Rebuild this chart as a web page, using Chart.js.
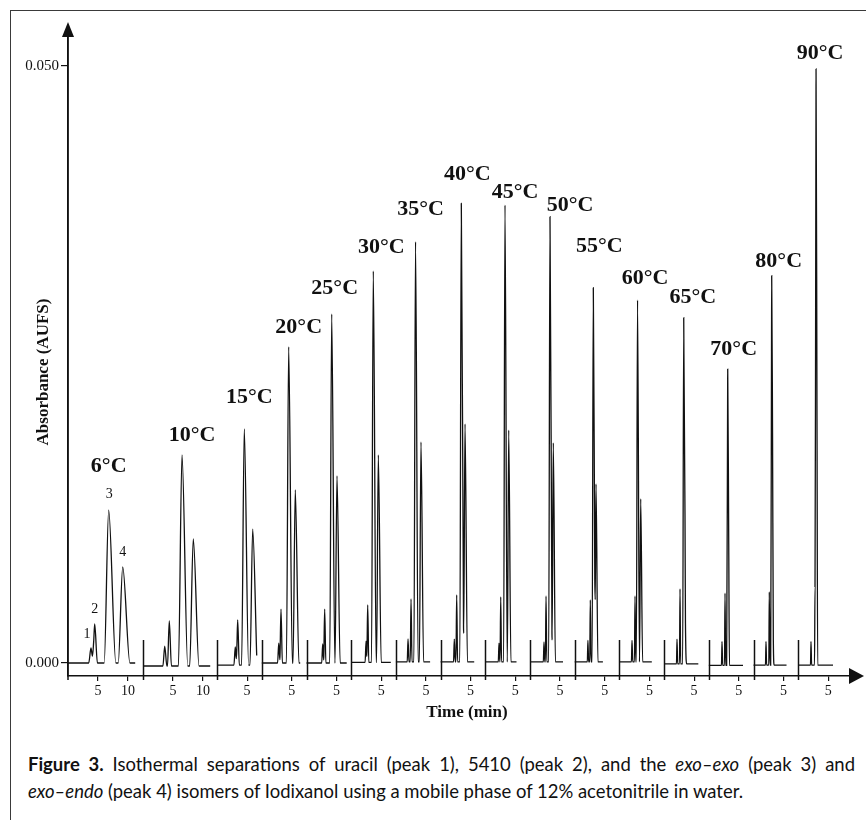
<!DOCTYPE html>
<html><head><meta charset="utf-8">
<script src="https://cdn.jsdelivr.net/npm/chart.js@4.4.1/dist/chart.umd.min.js"></script>
<style>
html,body{margin:0;padding:0;background:#fff;width:866px;height:820px;overflow:hidden;}
#frame{position:absolute;left:10px;top:10px;width:900px;height:900px;border:1.6px solid #3a3a3a;box-sizing:border-box;}
#c{position:absolute;left:0;top:0;}
#caption{position:absolute;left:28px;top:750px;width:827px;font-family:Lato,"Open Sans",sans-serif;font-size:19px;line-height:27px;color:#111;}
#capInner{transform-origin:0 0;width:827px;}
.l1{text-align:justify;text-align-last:justify;}
#l2{display:inline-block;white-space:nowrap;}
</style>
</head><body>
<div id="frame"></div>
<canvas id="c" width="866" height="730"></canvas>
<div id="caption"><div id="capInner">
<div class="l1"><b>Figure 3.</b> Isothermal separations of uracil (peak 1), 5410 (peak 2), and the <i>exo–exo</i> (peak 3) and</div>
<div id="l2"><i>exo–endo</i> (peak 4) isomers of Iodixanol using a mobile phase of 12% acetonitrile in water.</div>
</div></div>
<script>
// ---- data ----
const temperatures = [6,10,15,20,25,30,35,40,45,50,55,60,65,70,80,90];
const runLength   = [12.5,12.35,7.45,7.45,7.45,7.45,7.45,7.45,7.45,7.45,7.45,7.45,7.45,7.45,7.45,8.63]; // min shown per run
const traceEnd    = [11.2,11.2,6.6,6.4,6.7,6.6,5.7,5.6,5.2,5.5,4.7,5.4,5.7,5.7,5.5,5.8];            // min
const baselineLevel = [0,-0.00025,-0.00017,0,0,0.00005,0.0001,0.0001,0.0001,0.0001,0.0001,0.0001,-0.00008,-0.0002,-0.00017,-0.00017];
const peak1Time   = [3.83,3.62,3.03,2.82,2.70,2.47,2.02,2.28,2.28,2.33,2.20,2.10,2.15,2.20,2.08,2.13];
const peak1Height = [0.00126,0.00142,0.00134,0.00167,0.00159,0.00184,0.00201,0.0020,0.00167,0.00176,0.0019,0.0019,0.0020,0.0018,0.0018,0.0018];
const peak2Time   = [4.45,4.38,3.43,3.20,3.03,2.75,2.52,2.68,2.57,2.67,2.60,2.60,2.65,2.70,2.63,2.80];
const peak2Height = [0.00327,0.00352,0.0036,0.00452,0.00452,0.00486,0.00536,0.0057,0.00553,0.00561,0.00528,0.00561,0.0062,0.00586,0.00595,0.00637];
const peak3Time   = [6.78,6.50,4.53,4.48,4.20,3.68,3.27,3.45,3.28,3.33,3.10,3.02,3.27,3.15,3.03,2.97];
const peak3Height = [0.01281,0.01742,0.0196,0.02647,0.02923,0.03283,0.03528,0.0385,0.03836,0.03738,0.03143,0.0304,0.02892,0.02462,0.03244,0.04975];
const peak4Time   = [9.12,8.38,5.93,5.58,5.08,4.52,4.18,4.07,3.90,3.88,3.55,3.55,3.48,3.32,3.17,3.13];
const peak4Height = [0.00804,0.01039,0.01122,0.01449,0.01566,0.01742,0.01851,0.02002,0.01951,0.01843,0.01499,0.01374,0.0124,0.008,0.0193,0.012];
const peakWidth   = [0.75,0.6,0.45,0.38,0.33,0.3,0.27,0.25,0.23,0.22,0.2,0.2,0.18,0.18,0.17,0.17]; // min
const xTickLabels = [[5,10],[5,10],[5],[5],[5],[5],[5],[5],[5],[5],[5],[5],[5],[5],[5],[5]];
const yTickValues = [0,0.05];
const peakNumbers = ['1','2','3','4'];

// ---- layout (pixels, separate from data) ----
const labelOffset = [[0,-45],[10,-21],[5,-33],[10,-21],[3,-27],[8,-25],[5,-34],[6,-30],[10,-14],[20,-13],[6,-43],[7.5,-23],[9,-22],[6,-21],[7,-16],[4,-17]];
const peakNumOffset = [[-4,-15],[0,-16],[0.6,-17],[0,-16]];
const SERIF = '"Liberation Serif","DejaVu Serif",serif';

// caption: fit second line to the original's width
(function(){
  const l2=document.getElementById('l2'), inner=document.getElementById('capInner');
  const k=715/l2.getBoundingClientRect().width;
  inner.style.width=(827/k)+'px';
  inner.style.transform='scaleX('+k+')';
})();

// panel starts along one continuous time axis
const panelStart = [];
runLength.reduce((acc,v,i)=>{panelStart[i]=acc;return acc+v;},0);
const totalSpan = runLength.reduce((a,b)=>a+b,0);

function buildTrace(i){
  const base = baselineLevel[i], w = peakWidth[i];
  const peaks = [
    {t:peak1Time[i],h:peak1Height[i],wl:w*0.5,wr:w*0.6},
    {t:peak2Time[i],h:peak2Height[i],wl:w*0.5,wr:w*0.6},
    {t:peak3Time[i],h:peak3Height[i],wl:w,wr:w*1.6},
    {t:peak4Time[i],h:peak4Height[i],wl:w,wr:w*1.6}
  ];
  const tri=(p,t)=> t<=p.t ? Math.max(0,1-(p.t-t)/p.wl) : Math.max(0,1-(t-p.t)/p.wr);
  const amp = peaks.map(p=>p.h-base);
  for(let k=0;k<30;k++){
    peaks.forEach((p,j)=>{
      let s=0; peaks.forEach((q,m)=>{ if(m!==j) s+=amp[m]*tri(q,p.t); });
      amp[j]=Math.max(0,p.h-base-s);
    });
  }
  const ts=new Set([0,traceEnd[i]]);
  peaks.forEach(p=>{ts.add(p.t-p.wl);ts.add(p.t);ts.add(p.t+p.wr);});
  return [...ts].filter(t=>t>=0&&t<=traceEnd[i]).sort((a,b)=>a-b).map(t=>{
    let y=base; peaks.forEach((p,j)=>{y+=amp[j]*tri(p,t);});
    return {x:panelStart[i]+t,y:y};
  });
}

const datasets = temperatures.map((T,i)=>({
  label: T+'°C',
  data: buildTrace(i),
  borderColor:'#111', borderWidth:1.3, pointRadius:0, fill:false,
  cubicInterpolationMode:'monotone'
}));

const xTicks=[], xTickText=new Map();
xTickLabels.forEach((arr,i)=>arr.forEach(v=>{const g=panelStart[i]+v;xTicks.push(g);xTickText.set(g.toFixed(4),String(v));}));

const yZero=0.05/597; // AUFS per pixel
const yMin=-13*yZero, yMax=627*yZero;

const decor = {
  id:'decor',
  afterDraw(chart){
    const ctx=chart.ctx, xs=chart.scales.x, ys=chart.scales.y, ca=chart.chartArea;
    ctx.save();
    ctx.strokeStyle='#111'; ctx.fillStyle='#111'; ctx.lineWidth=1.5;
    const y0=ys.getPixelForValue(0);
    // run separators
    for(let i=1;i<panelStart.length;i++){
      const x=Math.round(xs.getPixelForValue(panelStart[i]))+0.5;
      ctx.beginPath(); ctx.moveTo(x,y0-23); ctx.lineTo(x,ca.bottom+4); ctx.stroke();
    }
    // axis arrows
    ctx.beginPath(); ctx.moveTo(ca.left,ca.top-14); ctx.lineTo(ca.left-6,ca.top+1); ctx.lineTo(ca.left+6,ca.top+1); ctx.closePath(); ctx.fill();
    ctx.beginPath(); ctx.moveTo(ca.left,ca.top); ctx.lineTo(ca.left,ca.bottom+4); ctx.stroke();
    ctx.beginPath(); ctx.moveTo(ca.right+14,ca.bottom); ctx.lineTo(ca.right-1,ca.bottom-8); ctx.lineTo(ca.right-1,ca.bottom+8); ctx.closePath(); ctx.fill();
    // temperature labels
    ctx.font='bold 22px '+SERIF; ctx.textAlign='center'; ctx.textBaseline='alphabetic';
    chart.data.datasets.forEach((ds,i)=>{
      let top=ds.data[0]; ds.data.forEach(p=>{if(p.y>top.y) top=p;});
      const px=xs.getPixelForValue(top.x), py=ys.getPixelForValue(top.y);
      ctx.fillText(ds.label, px+labelOffset[i][0], py+labelOffset[i][1]+7);
    });
    // peak numbers on the first run
    ctx.font='14px '+SERIF;
    const pt=[peak1Time[0],peak2Time[0],peak3Time[0],peak4Time[0]];
    const ph=[peak1Height[0],peak2Height[0],peak3Height[0],peak4Height[0]];
    peakNumbers.forEach((n,k)=>{
      const px=xs.getPixelForValue(panelStart[0]+pt[k]), py=ys.getPixelForValue(ph[k]);
      ctx.fillText(n, px+peakNumOffset[k][0], py+peakNumOffset[k][1]+5);
    });
    // axis titles
    ctx.font='bold 17px '+SERIF; ctx.textBaseline='middle';
    ctx.fillText('Time (min)', 467, 713);
    ctx.translate(44,372); ctx.rotate(-Math.PI/2);
    ctx.fillText('Absorbance (AUFS)',0,0);
    ctx.restore();
  }
};

new Chart(document.getElementById('c'),{
  type:'line',
  data:{datasets},
  options:{
    responsive:false, animation:false, devicePixelRatio:1,
    layout:{padding:{left:0,top:36,right:16,bottom:0}},
    plugins:{legend:{display:false},tooltip:{enabled:false}},
    scales:{
      x:{type:'linear',min:0,max:totalSpan,
        afterBuildTicks:(s)=>{s.ticks=xTicks.map(v=>({value:v}));},
        afterFit:(s)=>{s.height=54;},
        ticks:{autoSkip:false,maxRotation:0,padding:2,color:'#111',font:{family:SERIF,size:14},
          callback:(v)=>xTickText.get(Number(v).toFixed(4))||''},
        grid:{drawOnChartArea:false,tickLength:5,color:'#111',lineWidth:1.2},
        border:{color:'#111',width:1.5},
        title:{display:false,text:'Time (min)'}
      },
      y:{type:'linear',min:yMin,max:yMax,
        afterBuildTicks:(s)=>{s.ticks=yTickValues.map(v=>({value:v}));},
        afterFit:(s)=>{s.width=68;},
        ticks:{padding:2,color:'#111',font:{family:SERIF,size:15},callback:(v)=>Number(v).toFixed(3)},
        grid:{drawOnChartArea:false,tickLength:7,color:'#111',lineWidth:1.2},
        border:{color:'#111',width:1.5}
      }
    }
  },
  plugins:[decor]
});
</script>
</body></html>
